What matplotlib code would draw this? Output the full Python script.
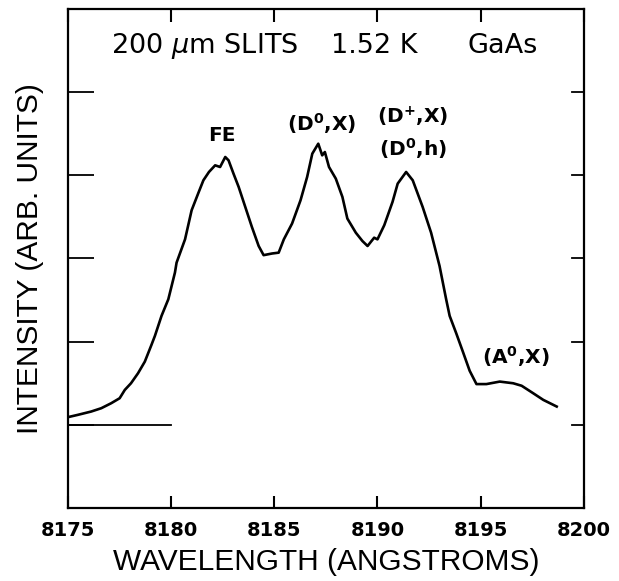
import matplotlib
matplotlib.use('agg')
import matplotlib.pyplot as plt
import numpy as np

# photoluminescence spectrum
wavelength = [8174.95, 8175.47, 8176.12, 8176.61, 8177.09, 8177.50, 8177.75, 8178.05,
              8178.39, 8178.72, 8179.04, 8179.21, 8179.53, 8179.86, 8180.18, 8180.26,
              8180.67, 8180.99, 8181.32, 8181.56, 8181.83, 8182.13, 8182.37, 8182.62,
              8182.78, 8183.02, 8183.27, 8183.59, 8183.91, 8184.24, 8184.48, 8184.89,
              8185.21, 8185.46, 8185.86, 8186.27, 8186.59, 8186.84, 8187.13, 8187.32,
              8187.45, 8187.65, 8187.98, 8188.30, 8188.54, 8188.95, 8189.27, 8189.52,
              8189.84, 8190.00, 8190.33, 8190.73, 8190.98, 8191.39, 8191.71, 8192.19,
              8192.60, 8193.01, 8193.33, 8193.50, 8193.82, 8194.14, 8194.47, 8194.80,
              8195.28, 8195.93, 8196.58, 8196.99, 8197.55, 8198.04, 8198.69]
intensity = [1.09, 1.12, 1.16, 1.20, 1.26, 1.32, 1.42, 1.50,
             1.62, 1.76, 1.96, 2.07, 2.31, 2.51, 2.83, 2.95,
             3.23, 3.58, 3.79, 3.94, 4.04, 4.12, 4.10, 4.22,
             4.18, 4.02, 3.86, 3.62, 3.38, 3.15, 3.04, 3.06,
             3.07, 3.23, 3.42, 3.70, 3.98, 4.26, 4.38, 4.24,
             4.28, 4.10, 3.96, 3.74, 3.48, 3.31, 3.21, 3.15,
             3.25, 3.23, 3.40, 3.68, 3.90, 4.04, 3.94, 3.62,
             3.31, 2.91, 2.51, 2.31, 2.10, 1.88, 1.65, 1.49,
             1.49, 1.52, 1.50, 1.47, 1.38, 1.30, 1.22]

# zero level marker
baseline_x = [8175, 8180]
baseline_y = [1, 1]

x_ticks = [8175, 8180, 8185, 8190, 8195, 8200]
y_ticks = [1, 2, 3, 4, 5]

# header pieces and peak labels: (text, x, y)
header = [(r'200 $\mu$m SLITS', 8177.08), ('1.52 K', 8187.74), ('GaAs', 8194.37)]
peaks = [
    ('FE', 8182.45, 4.48),
    (r'(D$^{\mathbf{0}}$,X)', 8187.3, 4.62),
    (r'(D$^{\mathbf{+}}$,X)', 8191.7, 4.70),
    (r'(D$^{\mathbf{0}}$,h)', 8191.7, 4.32),
    (r'(A$^{\mathbf{0}}$,X)', 8196.7, 1.82),
]

plt.rcParams['font.family'] = 'DejaVu Sans'
plt.rcParams['mathtext.fontset'] = 'dejavusans'

fig = plt.figure(figsize=(6.19, 5.81), dpi=100)
ax = fig.add_axes([0.110, 0.1256, 0.833, 0.859])

ax.plot(wavelength, intensity, color='black', lw=1.9)
ax.plot(baseline_x, baseline_y, color='black', lw=1.3)

ax.set_xlim(8175, 8200)
ax.set_ylim(0, 6)
ax.set_xticks(x_ticks)
ax.set_xticklabels([str(t) for t in x_ticks], fontweight='bold', fontsize=14)
ax.set_yticks(y_ticks)
ax.set_yticklabels([])
ax.tick_params(axis='x', direction='in', length=9, width=1.5, top=True, pad=9)
ax.tick_params(axis='y', direction='in', length=19, width=1.3, left=True, right=False)
# shorter ticks on the right edge
for t in y_ticks:
    ax.plot([8200 - 0.55, 8200], [t, t], color='black', lw=1.3, clip_on=False)
for s in ax.spines.values():
    s.set_linewidth(1.6)

ax.set_xlabel('WAVELENGTH (ANGSTROMS)', family='Liberation Sans', fontsize=21.5, labelpad=6)
ax.set_ylabel('INTENSITY (ARB. UNITS)', family='Liberation Sans', fontsize=21.5, labelpad=14)

for txt, x in header:
    ax.text(x, 5.55, txt, fontsize=19.5, ha='left', va='center')

for txt, x, y in peaks:
    ax.text(x, y, txt, fontsize=14.5, fontweight='bold', ha='center', va='center')

fig.savefig('out.png', dpi=100)
